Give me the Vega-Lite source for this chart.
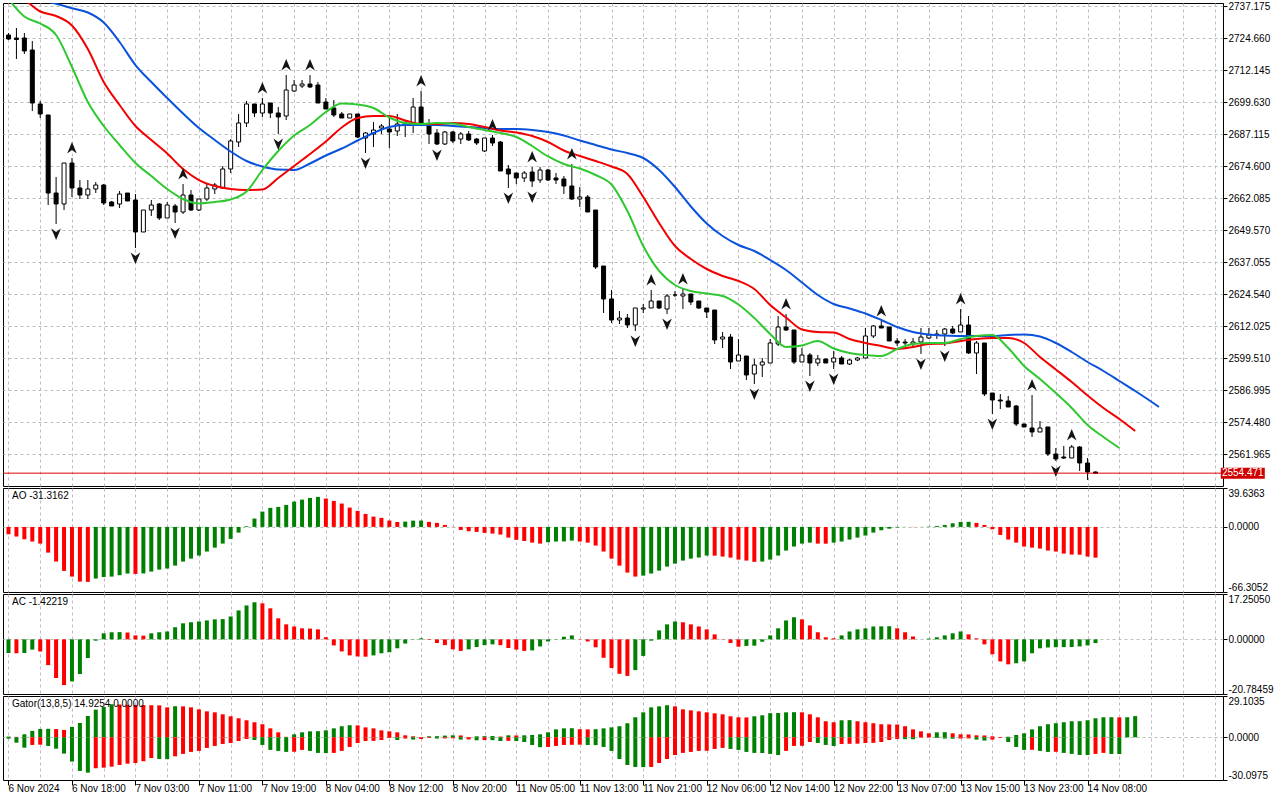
{
  "$schema": "https://vega.github.io/schema/vega-lite/v6.json",
  "background": "white",
  "padding": {"left": 2, "top": 0, "right": 0, "bottom": 0},
  "spacing": 2,
  "bounds": "flush",
  "config": {
    "view": {"stroke": "black", "strokeWidth": 1},
    "axis": {"labelFont": "Liberation Sans", "labelFontSize": 10, "labelColor": "black", "tickColor": "black", "tickWidth": 1, "title": null, "labelOverlap": false},
    "text": {"font": "Liberation Sans"},
    "locale": {"number": {"decimal": ".", "thousands": ",", "grouping": [3], "currency": ["", ""], "minus": "-"}}
  },
  "datasets": {
    "candles": [
      {"i":0,"o":2725.83,"h":2726.62,"l":2723.88,"c":2724.27},
      {"i":1,"o":2724.66,"h":2728.57,"l":2716.45,"c":2724.07},
      {"i":2,"o":2724.66,"h":2726.62,"l":2718.40,"c":2719.58},
      {"i":3,"o":2719.97,"h":2723.49,"l":2696.11,"c":2699.24},
      {"i":4,"o":2698.85,"h":2700.02,"l":2693.37,"c":2694.94},
      {"i":5,"o":2694.55,"h":2694.55,"l":2659.35,"c":2664.04},
      {"i":6,"o":2664.04,"h":2670.30,"l":2651.92,"c":2659.74,"f":"d"},
      {"i":7,"o":2659.74,"h":2675.77,"l":2657.39,"c":2675.77},
      {"i":8,"o":2675.77,"h":2677.73,"l":2662.48,"c":2666.00,"f":"u"},
      {"i":9,"o":2666.00,"h":2669.12,"l":2661.69,"c":2663.26},
      {"i":10,"o":2663.26,"h":2669.12,"l":2661.69,"c":2665.61},
      {"i":11,"o":2665.61,"h":2668.34,"l":2664.04,"c":2667.17},
      {"i":12,"o":2667.17,"h":2667.56,"l":2659.35,"c":2660.13},
      {"i":13,"o":2660.52,"h":2660.91,"l":2658.96,"c":2658.96},
      {"i":14,"o":2659.74,"h":2664.82,"l":2658.17,"c":2663.65},
      {"i":15,"o":2664.04,"h":2664.04,"l":2660.91,"c":2660.91},
      {"i":16,"o":2661.30,"h":2663.65,"l":2642.53,"c":2648.79,"f":"d"},
      {"i":17,"o":2648.79,"h":2657.39,"l":2648.79,"c":2657.39},
      {"i":18,"o":2657.39,"h":2661.30,"l":2655.05,"c":2659.35},
      {"i":19,"o":2659.74,"h":2660.13,"l":2653.48,"c":2654.26},
      {"i":20,"o":2654.26,"h":2660.52,"l":2654.26,"c":2659.35},
      {"i":21,"o":2658.96,"h":2659.74,"l":2652.31,"c":2656.61,"f":"d"},
      {"i":22,"o":2656.61,"h":2667.56,"l":2655.83,"c":2663.26,"f":"u"},
      {"i":23,"o":2663.26,"h":2665.21,"l":2657.00,"c":2657.39},
      {"i":24,"o":2657.39,"h":2661.69,"l":2657.00,"c":2661.69},
      {"i":25,"o":2661.69,"h":2667.56,"l":2660.91,"c":2666.00},
      {"i":26,"o":2665.61,"h":2667.95,"l":2663.65,"c":2667.17},
      {"i":27,"o":2666.00,"h":2674.60,"l":2666.00,"c":2673.43},
      {"i":28,"o":2673.43,"h":2685.16,"l":2671.86,"c":2684.38},
      {"i":29,"o":2683.99,"h":2694.94,"l":2682.03,"c":2691.42},
      {"i":30,"o":2691.42,"h":2700.02,"l":2689.85,"c":2698.85},
      {"i":31,"o":2698.85,"h":2698.85,"l":2693.76,"c":2695.33},
      {"i":32,"o":2695.33,"h":2701.19,"l":2693.76,"c":2698.85,"f":"u"},
      {"i":33,"o":2699.24,"h":2699.24,"l":2693.37,"c":2695.33},
      {"i":34,"o":2695.33,"h":2697.67,"l":2687.12,"c":2693.76,"f":"d"},
      {"i":35,"o":2694.15,"h":2710.19,"l":2692.59,"c":2704.32,"f":"u"},
      {"i":36,"o":2703.93,"h":2708.23,"l":2703.54,"c":2706.28},
      {"i":37,"o":2705.89,"h":2708.23,"l":2705.11,"c":2706.67},
      {"i":38,"o":2706.67,"h":2710.19,"l":2705.11,"c":2705.50,"f":"u"},
      {"i":39,"o":2706.28,"h":2707.45,"l":2699.24,"c":2699.24},
      {"i":40,"o":2699.63,"h":2701.19,"l":2696.89,"c":2696.89},
      {"i":41,"o":2697.28,"h":2700.41,"l":2693.76,"c":2694.55},
      {"i":42,"o":2694.94,"h":2695.72,"l":2693.37,"c":2693.37},
      {"i":43,"o":2693.37,"h":2694.94,"l":2693.37,"c":2694.94},
      {"i":44,"o":2694.94,"h":2694.94,"l":2685.55,"c":2685.94},
      {"i":45,"o":2685.55,"h":2687.90,"l":2679.68,"c":2687.51,"f":"d"},
      {"i":46,"o":2687.12,"h":2691.81,"l":2682.03,"c":2688.68},
      {"i":47,"o":2689.46,"h":2691.03,"l":2687.12,"c":2690.24},
      {"i":48,"o":2689.07,"h":2693.76,"l":2681.64,"c":2687.90},
      {"i":49,"o":2688.29,"h":2694.94,"l":2686.33,"c":2691.03},
      {"i":50,"o":2690.63,"h":2692.20,"l":2685.94,"c":2691.42},
      {"i":51,"o":2691.03,"h":2701.19,"l":2687.51,"c":2697.67},
      {"i":52,"o":2697.67,"h":2703.93,"l":2690.24,"c":2691.03,"f":"u"},
      {"i":53,"o":2690.24,"h":2692.98,"l":2683.20,"c":2687.12},
      {"i":54,"o":2687.51,"h":2689.07,"l":2682.81,"c":2683.20,"f":"d"},
      {"i":55,"o":2683.20,"h":2688.29,"l":2682.81,"c":2687.90},
      {"i":56,"o":2687.90,"h":2688.29,"l":2683.60,"c":2684.38},
      {"i":57,"o":2685.16,"h":2687.90,"l":2683.20,"c":2687.12},
      {"i":58,"o":2687.12,"h":2688.29,"l":2684.38,"c":2684.77},
      {"i":59,"o":2685.16,"h":2685.55,"l":2682.81,"c":2683.60},
      {"i":60,"o":2680.47,"h":2685.55,"l":2680.08,"c":2685.55},
      {"i":61,"o":2685.55,"h":2686.72,"l":2682.42,"c":2683.60,"f":"u"},
      {"i":62,"o":2683.99,"h":2684.38,"l":2672.64,"c":2672.64},
      {"i":63,"o":2673.43,"h":2674.99,"l":2666.00,"c":2671.47,"f":"d"},
      {"i":64,"o":2671.86,"h":2671.86,"l":2667.56,"c":2669.91},
      {"i":65,"o":2669.91,"h":2672.64,"l":2668.34,"c":2671.86},
      {"i":66,"o":2672.25,"h":2674.21,"l":2666.39,"c":2668.73,"f":"ud"},
      {"i":67,"o":2669.12,"h":2674.21,"l":2667.95,"c":2673.04},
      {"i":68,"o":2673.04,"h":2673.43,"l":2668.73,"c":2669.12},
      {"i":69,"o":2669.91,"h":2671.86,"l":2667.56,"c":2669.12},
      {"i":70,"o":2669.52,"h":2670.69,"l":2663.65,"c":2666.78},
      {"i":71,"o":2666.78,"h":2675.38,"l":2661.30,"c":2661.69,"f":"u"},
      {"i":72,"o":2661.69,"h":2666.39,"l":2658.57,"c":2662.48},
      {"i":73,"o":2662.48,"h":2663.26,"l":2656.61,"c":2656.61},
      {"i":74,"o":2657.39,"h":2657.39,"l":2634.32,"c":2635.10},
      {"i":75,"o":2635.49,"h":2635.49,"l":2617.11,"c":2622.59},
      {"i":76,"o":2622.59,"h":2626.10,"l":2613.20,"c":2614.37},
      {"i":77,"o":2614.37,"h":2617.89,"l":2612.81,"c":2615.15},
      {"i":78,"o":2615.15,"h":2616.72,"l":2611.24,"c":2612.42},
      {"i":79,"o":2612.42,"h":2619.07,"l":2610.07,"c":2619.07,"f":"d"},
      {"i":80,"o":2618.67,"h":2620.63,"l":2617.11,"c":2619.07},
      {"i":81,"o":2619.07,"h":2626.10,"l":2619.07,"c":2621.80,"f":"u"},
      {"i":82,"o":2621.80,"h":2621.80,"l":2618.67,"c":2619.07},
      {"i":83,"o":2618.67,"h":2624.54,"l":2616.72,"c":2623.76,"f":"d"},
      {"i":84,"o":2624.15,"h":2625.71,"l":2623.37,"c":2624.15},
      {"i":85,"o":2623.76,"h":2626.50,"l":2618.67,"c":2624.54,"f":"u"},
      {"i":86,"o":2624.54,"h":2624.54,"l":2620.24,"c":2621.41},
      {"i":87,"o":2621.80,"h":2621.80,"l":2618.67,"c":2619.07},
      {"i":88,"o":2619.07,"h":2619.07,"l":2615.15,"c":2617.50},
      {"i":89,"o":2618.28,"h":2618.28,"l":2604.99,"c":2606.55},
      {"i":90,"o":2606.94,"h":2609.68,"l":2603.42,"c":2607.72},
      {"i":91,"o":2607.72,"h":2608.90,"l":2595.21,"c":2597.95},
      {"i":92,"o":2598.34,"h":2606.94,"l":2598.34,"c":2600.68},
      {"i":93,"o":2600.29,"h":2600.29,"l":2590.91,"c":2592.86},
      {"i":94,"o":2593.25,"h":2599.12,"l":2589.34,"c":2596.77,"f":"d"},
      {"i":95,"o":2596.77,"h":2599.51,"l":2592.08,"c":2597.95},
      {"i":96,"o":2597.56,"h":2606.94,"l":2597.56,"c":2605.38},
      {"i":97,"o":2604.99,"h":2615.94,"l":2604.20,"c":2611.63},
      {"i":98,"o":2611.63,"h":2616.72,"l":2610.07,"c":2610.46,"f":"u"},
      {"i":99,"o":2610.46,"h":2610.46,"l":2597.16,"c":2597.95},
      {"i":100,"o":2597.95,"h":2603.42,"l":2597.95,"c":2600.68},
      {"i":101,"o":2600.68,"h":2601.47,"l":2592.47,"c":2597.56,"f":"d"},
      {"i":102,"o":2597.56,"h":2600.68,"l":2596.38,"c":2599.12},
      {"i":103,"o":2599.12,"h":2599.12,"l":2597.56,"c":2597.56},
      {"i":104,"o":2597.95,"h":2602.25,"l":2595.21,"c":2599.51,"f":"d"},
      {"i":105,"o":2599.51,"h":2600.29,"l":2597.16,"c":2597.16},
      {"i":106,"o":2597.16,"h":2599.12,"l":2596.77,"c":2598.73},
      {"i":107,"o":2598.73,"h":2599.90,"l":2598.34,"c":2599.51},
      {"i":108,"o":2599.51,"h":2611.24,"l":2599.51,"c":2608.12},
      {"i":109,"o":2608.12,"h":2612.42,"l":2607.33,"c":2612.03},
      {"i":110,"o":2612.03,"h":2613.98,"l":2611.24,"c":2611.24,"f":"u"},
      {"i":111,"o":2611.63,"h":2611.63,"l":2606.16,"c":2606.16},
      {"i":112,"o":2606.16,"h":2607.33,"l":2604.20,"c":2605.38},
      {"i":113,"o":2605.77,"h":2606.94,"l":2604.59,"c":2605.38},
      {"i":114,"o":2604.99,"h":2607.33,"l":2603.42,"c":2605.77},
      {"i":115,"o":2605.77,"h":2611.24,"l":2601.08,"c":2607.72,"f":"d"},
      {"i":116,"o":2607.33,"h":2611.24,"l":2606.94,"c":2608.51},
      {"i":117,"o":2608.51,"h":2610.46,"l":2606.94,"c":2608.90},
      {"i":118,"o":2608.90,"h":2611.24,"l":2604.20,"c":2610.85,"f":"d"},
      {"i":119,"o":2610.85,"h":2612.03,"l":2608.90,"c":2609.29},
      {"i":120,"o":2609.68,"h":2618.67,"l":2609.68,"c":2612.42,"f":"u"},
      {"i":121,"o":2612.42,"h":2615.94,"l":2601.08,"c":2601.47},
      {"i":122,"o":2601.47,"h":2606.16,"l":2593.25,"c":2605.38},
      {"i":123,"o":2605.38,"h":2605.38,"l":2584.65,"c":2585.43},
      {"i":124,"o":2585.82,"h":2585.82,"l":2577.61,"c":2583.08,"f":"d"},
      {"i":125,"o":2583.08,"h":2585.43,"l":2579.57,"c":2582.69},
      {"i":126,"o":2582.69,"h":2584.65,"l":2580.35,"c":2580.35},
      {"i":127,"o":2580.74,"h":2581.13,"l":2572.92,"c":2573.70},
      {"i":128,"o":2573.70,"h":2573.70,"l":2572.53,"c":2572.53},
      {"i":129,"o":2572.13,"h":2585.04,"l":2568.61,"c":2570.57,"f":"u"},
      {"i":130,"o":2570.57,"h":2574.87,"l":2570.57,"c":2572.13},
      {"i":131,"o":2572.53,"h":2572.53,"l":2561.18,"c":2561.97},
      {"i":132,"o":2561.97,"h":2564.31,"l":2559.23,"c":2560.01,"f":"d"},
      {"i":133,"o":2560.79,"h":2565.09,"l":2560.01,"c":2560.40},
      {"i":134,"o":2560.40,"h":2565.49,"l":2560.40,"c":2564.70,"f":"u"},
      {"i":135,"o":2564.70,"h":2565.09,"l":2555.32,"c":2558.45},
      {"i":136,"o":2558.45,"h":2560.40,"l":2551.80,"c":2554.93},
      {"i":137,"o":2554.93,"h":2555.10,"l":2554.14,"c":2554.471}
    ],
    "alligator": [
      {"i":0,"jaw":2742.26,"teeth":2741.48,"lips":2739.91},
      {"i":2,"jaw":2740.69,"teeth":2739.52,"lips":2733.07},
      {"i":4,"jaw":2739.52,"teeth":2735.02,"lips":2730.33},
      {"i":6,"jaw":2738.03,"teeth":2733.26,"lips":2725.83},
      {"i":8,"jaw":2736.31,"teeth":2729.55,"lips":2713.32},
      {"i":10,"jaw":2734.63,"teeth":2720.36,"lips":2699.63},
      {"i":12,"jaw":2730.72,"teeth":2707.45,"lips":2690.24},
      {"i":14,"jaw":2723.10,"teeth":2698.46,"lips":2682.81},
      {"i":16,"jaw":2714.10,"teeth":2690.24,"lips":2675.77},
      {"i":18,"jaw":2707.45,"teeth":2684.77,"lips":2670.69},
      {"i":20,"jaw":2701.19,"teeth":2679.49,"lips":2665.61},
      {"i":22,"jaw":2695.13,"teeth":2673.43,"lips":2661.69},
      {"i":24,"jaw":2689.46,"teeth":2669.12,"lips":2659.93},
      {"i":26,"jaw":2684.77,"teeth":2666.78,"lips":2660.52},
      {"i":28,"jaw":2680.27,"teeth":2665.61,"lips":2661.50},
      {"i":30,"jaw":2676.56,"teeth":2665.21,"lips":2664.63},
      {"i":32,"jaw":2674.40,"teeth":2665.41,"lips":2673.04},
      {"i":34,"jaw":2673.23,"teeth":2669.91,"lips":2680.47},
      {"i":36,"jaw":2673.04,"teeth":2674.60,"lips":2686.53},
      {"i":38,"jaw":2675.58,"teeth":2679.29,"lips":2690.63},
      {"i":40,"jaw":2678.71,"teeth":2684.18,"lips":2695.72},
      {"i":42,"jaw":2681.44,"teeth":2689.66,"lips":2699.04},
      {"i":44,"jaw":2684.57,"teeth":2693.37,"lips":2698.65},
      {"i":46,"jaw":2687.51,"teeth":2694.15,"lips":2697.28},
      {"i":48,"jaw":2689.85,"teeth":2694.15,"lips":2693.57},
      {"i":50,"jaw":2690.63,"teeth":2692.40,"lips":2691.42},
      {"i":52,"jaw":2690.63,"teeth":2691.03,"lips":2691.03},
      {"i":54,"jaw":2690.63,"teeth":2691.03,"lips":2691.42},
      {"i":56,"jaw":2690.24,"teeth":2691.42,"lips":2691.22},
      {"i":58,"jaw":2689.85,"teeth":2691.03,"lips":2689.85},
      {"i":60,"jaw":2689.46,"teeth":2689.85,"lips":2688.68},
      {"i":62,"jaw":2689.07,"teeth":2688.48,"lips":2687.51},
      {"i":64,"jaw":2689.07,"teeth":2687.70,"lips":2685.94},
      {"i":66,"jaw":2688.68,"teeth":2686.33,"lips":2682.42},
      {"i":68,"jaw":2687.90,"teeth":2683.99,"lips":2678.32},
      {"i":70,"jaw":2686.53,"teeth":2680.66,"lips":2675.38},
      {"i":72,"jaw":2684.57,"teeth":2678.51,"lips":2673.62},
      {"i":74,"jaw":2682.81,"teeth":2676.56,"lips":2671.08},
      {"i":76,"jaw":2681.05,"teeth":2674.40,"lips":2667.36},
      {"i":78,"jaw":2679.68,"teeth":2671.47,"lips":2657.00},
      {"i":80,"jaw":2677.73,"teeth":2662.48,"lips":2643.31},
      {"i":82,"jaw":2673.04,"teeth":2652.31,"lips":2633.54},
      {"i":84,"jaw":2666.39,"teeth":2643.31,"lips":2628.06},
      {"i":86,"jaw":2658.76,"teeth":2638.23,"lips":2625.71},
      {"i":88,"jaw":2652.11,"teeth":2634.32,"lips":2624.74},
      {"i":90,"jaw":2647.22,"teeth":2631.58,"lips":2623.76},
      {"i":92,"jaw":2643.70,"teeth":2629.62,"lips":2620.43},
      {"i":94,"jaw":2641.36,"teeth":2626.50,"lips":2615.15},
      {"i":96,"jaw":2637.84,"teeth":2620.24,"lips":2608.90},
      {"i":98,"jaw":2633.93,"teeth":2615.35,"lips":2603.81},
      {"i":100,"jaw":2629.04,"teeth":2610.66,"lips":2604.40},
      {"i":102,"jaw":2624.15,"teeth":2609.68,"lips":2606.16},
      {"i":104,"jaw":2620.63,"teeth":2609.48,"lips":2603.23},
      {"i":106,"jaw":2618.87,"teeth":2606.94,"lips":2601.47},
      {"i":108,"jaw":2616.91,"teeth":2605.38,"lips":2600.68},
      {"i":110,"jaw":2614.37,"teeth":2604.20,"lips":2600.29},
      {"i":112,"jaw":2611.63,"teeth":2603.03,"lips":2603.03},
      {"i":114,"jaw":2609.68,"teeth":2603.81,"lips":2604.99},
      {"i":116,"jaw":2608.70,"teeth":2604.99,"lips":2605.38},
      {"i":118,"jaw":2608.31,"teeth":2605.18,"lips":2605.38},
      {"i":120,"jaw":2608.12,"teeth":2606.16,"lips":2606.94},
      {"i":122,"jaw":2608.12,"teeth":2606.94,"lips":2608.12},
      {"i":124,"jaw":2608.12,"teeth":2607.33,"lips":2608.51},
      {"i":126,"jaw":2608.51,"teeth":2607.33,"lips":2603.42},
      {"i":128,"jaw":2608.70,"teeth":2605.38,"lips":2596.38},
      {"i":130,"jaw":2607.92,"teeth":2599.90,"lips":2591.30},
      {"i":132,"jaw":2605.38,"teeth":2595.01,"lips":2585.82},
      {"i":134,"jaw":2601.86,"teeth":2590.12,"lips":2579.96},
      {"i":136,"jaw":2597.95,"teeth":2584.84,"lips":2573.31},
      {"i":138,"jaw":2594.43,"teeth":2579.96,"lips":2568.61},
      {"i":140,"jaw":2590.52,"teeth":2575.65,"lips":2564.31},
      {"i":142,"jaw":2586.60,"teeth":2570.96},
      {"i":144,"jaw":2582.50},
      {"i":145,"jaw":2580.35}
    ],
    "osc": [
      {"i":0,"ao":-7.5,"ac":-5.2,"gu":0.5,"gl":-1.0},
      {"i":1,"ao":-9.8,"ac":-5.3,"gu":0.3,"gl":-3.8},
      {"i":2,"ao":-12.6,"ac":-5.2,"gu":2.1,"gl":-7.3},
      {"i":3,"ao":-14.9,"ac":-3.9,"gu":4.5,"gl":-5.4},
      {"i":4,"ao":-17.0,"ac":-4.6,"gu":5.9,"gl":-5.2},
      {"i":5,"ao":-26.2,"ac":-9.8,"gu":6.0,"gl":-6.1},
      {"i":6,"ao":-35.3,"ac":-14.7,"gu":5.8,"gl":-8.0},
      {"i":7,"ao":-44.8,"ac":-17.4,"gu":5.2,"gl":-11.5},
      {"i":8,"ao":-50.6,"ac":-16.0,"gu":7.3,"gl":-17.1},
      {"i":9,"ao":-55.7,"ac":-13.2,"gu":10.1,"gl":-23.7},
      {"i":10,"ao":-56.0,"ac":-7.1,"gu":15.0,"gl":-24.9},
      {"i":11,"ao":-52.6,"ac":-0.5,"gu":19.5,"gl":-21.8},
      {"i":12,"ao":-51.0,"ac":2.3,"gu":21.5,"gl":-21.4},
      {"i":13,"ao":-50.6,"ac":2.7,"gu":23.3,"gl":-20.7},
      {"i":14,"ao":-49.2,"ac":2.75,"gu":23.1,"gl":-19.5},
      {"i":15,"ao":-47.5,"ac":2.6,"gu":22.9,"gl":-18.6},
      {"i":16,"ao":-47.9,"ac":1.5,"gu":22.8,"gl":-18.1},
      {"i":17,"ao":-47.4,"ac":1.4,"gu":22.7,"gl":-16.9},
      {"i":18,"ao":-45.5,"ac":2.3,"gu":22.6,"gl":-14.6},
      {"i":19,"ao":-43.5,"ac":2.7,"gu":22.5,"gl":-15.3},
      {"i":20,"ao":-42.4,"ac":3.0,"gu":21.1,"gl":-15.4},
      {"i":21,"ao":-39.4,"ac":4.6,"gu":21.9,"gl":-13.4},
      {"i":22,"ao":-35.3,"ac":6.1,"gu":21.8,"gl":-11.7},
      {"i":23,"ao":-32.3,"ac":6.5,"gu":21.1,"gl":-10.3},
      {"i":24,"ao":-29.2,"ac":6.8,"gu":19.7,"gl":-9.6},
      {"i":25,"ao":-25.1,"ac":7.2,"gu":18.3,"gl":-7.5},
      {"i":26,"ao":-21.1,"ac":7.6,"gu":17.6,"gl":-6.1},
      {"i":27,"ao":-17.0,"ac":7.7,"gu":16.2,"gl":-4.7},
      {"i":28,"ao":-12.2,"ac":8.7,"gu":14.8,"gl":-4.0},
      {"i":29,"ao":-5.8,"ac":11.0,"gu":13.4,"gl":-2.6},
      {"i":30,"ao":0.7,"ac":12.9,"gu":12.0,"gl":-1.2},
      {"i":31,"ao":8.5,"ac":14.1,"gu":10.6,"gl":-1.9},
      {"i":32,"ao":15.6,"ac":13.7,"gu":9.2,"gl":-5.4},
      {"i":33,"ao":19.4,"ac":11.8,"gu":6.3,"gl":-8.9},
      {"i":34,"ao":20.4,"ac":8.0,"gu":3.5,"gl":-9.6},
      {"i":35,"ao":22.4,"ac":5.7,"gu":0.3,"gl":-10.3},
      {"i":36,"ao":25.8,"ac":4.9,"gu":2.1,"gl":-10.2},
      {"i":37,"ao":27.8,"ac":4.2,"gu":3.5,"gl":-8.9},
      {"i":38,"ao":29.5,"ac":4.1,"gu":4.2,"gl":-9.6},
      {"i":39,"ao":30.6,"ac":3.8,"gu":4.3,"gl":-11.0},
      {"i":40,"ao":28.9,"ac":0.8,"gu":4.9,"gl":-11.1},
      {"i":41,"ao":26.5,"ac":-2.3,"gu":6.3,"gl":-11.0},
      {"i":42,"ao":23.8,"ac":-4.6,"gu":7.8,"gl":-9.6},
      {"i":43,"ao":19.7,"ac":-6.1,"gu":8.5,"gl":-6.8},
      {"i":44,"ao":16.3,"ac":-6.5,"gu":8.4,"gl":-4.0},
      {"i":45,"ao":13.2,"ac":-6.6,"gu":7.0,"gl":-2.6},
      {"i":46,"ao":10.5,"ac":-6.1,"gu":6.3,"gl":-2.5},
      {"i":47,"ao":9.2,"ac":-5.3,"gu":4.9,"gl":-1.9},
      {"i":48,"ao":6.5,"ac":-4.9,"gu":4.2,"gl":-0.5},
      {"i":49,"ao":5.0,"ac":-3.4,"gu":3.5,"gl":-1.9},
      {"i":50,"ao":5.4,"ac":-1.6,"gu":1.4,"gl":-0.9},
      {"i":51,"ao":6.4,"ac":0.1,"gu":0.7,"gl":-1.6},
      {"i":52,"ao":6.5,"ac":0.4,"gu":0.2,"gl":-1.2},
      {"i":53,"ao":5.1,"ac":-0.2,"gu":0.7,"gl":-0.5},
      {"i":54,"ao":4.1,"ac":-1.4,"gu":0.8,"gl":-0.9},
      {"i":55,"ao":2.0,"ac":-2.2,"gu":1.2,"gl":-0.8},
      {"i":56,"ao":-0.2,"ac":-3.8,"gu":1.4,"gl":-0.7},
      {"i":57,"ao":-3.1,"ac":-4.4,"gu":1.3,"gl":-1.6},
      {"i":58,"ao":-4.4,"ac":-3.8,"gu":0.2,"gl":-1.5},
      {"i":59,"ao":-5.1,"ac":-2.9,"gu":0.7,"gl":-2.1},
      {"i":60,"ao":-6.1,"ac":-2.2,"gu":0.8,"gl":-1.9},
      {"i":61,"ao":-6.8,"ac":-1.9,"gu":0.9,"gl":-2.0},
      {"i":62,"ao":-7.8,"ac":-2.2,"gu":0.5,"gl":-2.6},
      {"i":63,"ao":-10.9,"ac":-3.3,"gu":1.4,"gl":-2.5},
      {"i":64,"ao":-13.2,"ac":-3.9,"gu":1.3,"gl":-2.6},
      {"i":65,"ao":-14.3,"ac":-4.4,"gu":1.4,"gl":-3.3},
      {"i":66,"ao":-16.0,"ac":-4.2,"gu":1.6,"gl":-5.4},
      {"i":67,"ao":-17.0,"ac":-2.7,"gu":2.1,"gl":-7.0},
      {"i":68,"ao":-15.6,"ac":-0.8,"gu":3.5,"gl":-6.8},
      {"i":69,"ao":-14.9,"ac":0.1,"gu":5.6,"gl":-6.1},
      {"i":70,"ao":-14.8,"ac":1.0,"gu":6.3,"gl":-5.4},
      {"i":71,"ao":-13.9,"ac":1.5,"gu":6.4,"gl":-5.3},
      {"i":72,"ao":-14.9,"ac":0.1,"gu":5.7,"gl":-5.2},
      {"i":73,"ao":-16.0,"ac":-0.8,"gu":5.6,"gl":-5.4},
      {"i":74,"ao":-19.0,"ac":-3.0,"gu":5.7,"gl":-5.5},
      {"i":75,"ao":-25.1,"ac":-7.0,"gu":6.3,"gl":-6.8},
      {"i":76,"ao":-32.3,"ac":-10.9,"gu":7.0,"gl":-9.6},
      {"i":77,"ao":-39.4,"ac":-13.1,"gu":7.8,"gl":-15.3},
      {"i":78,"ao":-46.5,"ac":-13.9,"gu":9.9,"gl":-19.5},
      {"i":79,"ao":-50.6,"ac":-11.7,"gu":14.1,"gl":-20.9},
      {"i":80,"ao":-49.6,"ac":-6.3,"gu":17.6,"gl":-21.0},
      {"i":81,"ao":-47.5,"ac":-0.5,"gu":21.1,"gl":-20.9},
      {"i":82,"ao":-44.5,"ac":3.4,"gu":21.8,"gl":-18.1},
      {"i":83,"ao":-40.4,"ac":5.7,"gu":22.6,"gl":-15.3},
      {"i":84,"ao":-37.4,"ac":6.8,"gu":21.8,"gl":-12.5},
      {"i":85,"ao":-34.3,"ac":6.5,"gu":19.7,"gl":-11.0},
      {"i":86,"ao":-32.3,"ac":5.7,"gu":19.0,"gl":-10.3},
      {"i":87,"ao":-31.2,"ac":4.9,"gu":18.3,"gl":-9.6},
      {"i":88,"ao":-29.2,"ac":3.8,"gu":17.6,"gl":-9.5},
      {"i":89,"ao":-29.3,"ac":1.9,"gu":16.9,"gl":-8.2},
      {"i":90,"ao":-30.2,"ac":0.1,"gu":16.2,"gl":-7.5},
      {"i":91,"ao":-31.3,"ac":-1.4,"gu":14.8,"gl":-8.2},
      {"i":92,"ao":-33.3,"ac":-2.8,"gu":14.1,"gl":-8.9},
      {"i":93,"ao":-34.3,"ac":-2.5,"gu":14.0,"gl":-10.3},
      {"i":94,"ao":-35.6,"ac":-2.4,"gu":14.8,"gl":-11.0},
      {"i":95,"ao":-35.3,"ac":-0.9,"gu":15.5,"gl":-11.1},
      {"i":96,"ao":-33.3,"ac":1.5,"gu":17.0,"gl":-11.7},
      {"i":97,"ao":-29.2,"ac":4.2,"gu":17.1,"gl":-12.5},
      {"i":98,"ao":-24.1,"ac":7.2,"gu":17.6,"gl":-9.6},
      {"i":99,"ao":-20.0,"ac":8.4,"gu":17.7,"gl":-6.1},
      {"i":100,"ao":-17.0,"ac":7.6,"gu":17.6,"gl":-6.0},
      {"i":101,"ao":-16.0,"ac":5.3,"gu":16.2,"gl":-3.3},
      {"i":102,"ao":-17.0,"ac":2.7,"gu":14.1,"gl":-4.0},
      {"i":103,"ao":-17.1,"ac":0.8,"gu":11.3,"gl":-5.4},
      {"i":104,"ao":-16.0,"ac":0.4,"gu":10.6,"gl":-6.1},
      {"i":105,"ao":-14.9,"ac":1.5,"gu":12.0,"gl":-4.7},
      {"i":106,"ao":-12.9,"ac":3.0,"gu":12.1,"gl":-4.6},
      {"i":107,"ao":-10.9,"ac":3.8,"gu":11.3,"gl":-4.5},
      {"i":108,"ao":-8.8,"ac":4.2,"gu":10.6,"gl":-4.0},
      {"i":109,"ao":-5.8,"ac":4.9,"gu":9.9,"gl":-3.9},
      {"i":110,"ao":-3.4,"ac":4.95,"gu":9.2,"gl":-3.3},
      {"i":111,"ao":-1.8,"ac":5.0,"gu":9.1,"gl":-1.9},
      {"i":112,"ao":-0.6,"ac":4.2,"gu":9.0,"gl":-1.2},
      {"i":113,"ao":-0.1,"ac":2.7,"gu":7.8,"gl":-1.3},
      {"i":114,"ao":-0.2,"ac":1.1,"gu":5.6,"gl":-1.4},
      {"i":115,"ao":-0.1,"ac":0.0,"gu":4.2,"gl":-0.2},
      {"i":116,"ao":0.3,"ac":0.3,"gu":2.8,"gl":-0.1},
      {"i":117,"ao":1.0,"ac":0.8,"gu":3.5,"gl":-0.5},
      {"i":118,"ao":2.0,"ac":1.5,"gu":3.6,"gl":-0.9},
      {"i":119,"ao":3.7,"ac":2.3,"gu":2.8,"gl":-1.0},
      {"i":120,"ao":5.1,"ac":3.0,"gu":2.1,"gl":-0.9},
      {"i":121,"ao":5.2,"ac":1.9,"gu":2.0,"gl":-0.8},
      {"i":122,"ao":4.1,"ac":0.4,"gu":1.4,"gl":-1.6},
      {"i":123,"ao":2.0,"ac":-1.9,"gu":1.3,"gl":-2.3},
      {"i":124,"ao":-2.4,"ac":-5.7,"gu":0.7,"gl":-1.6},
      {"i":125,"ao":-8.2,"ac":-8.4,"gu":0.1,"gl":-0.5},
      {"i":126,"ao":-12.9,"ac":-9.5,"gu":0.4,"gl":-3.3},
      {"i":127,"ao":-16.0,"ac":-9.1,"gu":1.6,"gl":-6.8},
      {"i":128,"ao":-20.0,"ac":-8.4,"gu":2.8,"gl":-8.9},
      {"i":129,"ao":-21.1,"ac":-5.3,"gu":5.6,"gl":-8.8},
      {"i":130,"ao":-22.1,"ac":-3.4,"gu":7.8,"gl":-9.6},
      {"i":131,"ao":-24.1,"ac":-3.1,"gu":9.2,"gl":-10.3},
      {"i":132,"ao":-25.1,"ac":-3.0,"gu":9.9,"gl":-10.2},
      {"i":133,"ao":-27.2,"ac":-2.95,"gu":10.6,"gl":-11.0},
      {"i":134,"ao":-28.2,"ac":-2.9,"gu":11.3,"gl":-11.7},
      {"i":135,"ao":-28.3,"ac":-2.7,"gu":11.35,"gl":-12.45},
      {"i":136,"ao":-30.2,"ac":-2.3,"gu":12.0,"gl":-12.5},
      {"i":137,"ao":-31.3162,"ac":-1.42219,"gu":13.4,"gl":-11.7},
      {"i":138,"gu":14.1,"gl":-11.0},
      {"i":139,"gu":14.15,"gl":-11.75},
      {"i":140,"gu":14.05,"gl":-11.8},
      {"i":141,"gu":14.15},
      {"i":142,"gu":14.9254}
    ],
    "times": [
      {"i":0,"t":"6 Nov 2024"},{"i":8,"t":"6 Nov 18:00"},{"i":16,"t":"7 Nov 03:00"},
      {"i":24,"t":"7 Nov 11:00"},{"i":32,"t":"7 Nov 19:00"},{"i":40,"t":"8 Nov 04:00"},
      {"i":48,"t":"8 Nov 12:00"},{"i":56,"t":"8 Nov 20:00"},{"i":64,"t":"11 Nov 05:00"},
      {"i":72,"t":"11 Nov 13:00"},{"i":80,"t":"11 Nov 21:00"},{"i":88,"t":"12 Nov 06:00"},
      {"i":96,"t":"12 Nov 14:00"},{"i":104,"t":"12 Nov 22:00"},{"i":112,"t":"13 Nov 07:00"},
      {"i":120,"t":"13 Nov 15:00"},{"i":128,"t":"13 Nov 23:00"},{"i":136,"t":"14 Nov 08:00"}
    ]
  },
  "vconcat": [
    {
      "width": 1220,
      "height": 483,
      "layer": [
        {
          "data": {"name": "candles"},
          "mark": {"type": "rule", "color": "black", "strokeWidth": 1},
          "encoding": {
            "x": {"field": "i", "type": "quantitative", "title": null,
              "scale": {"domain": [-0.0625, 152.4375], "nice": false, "zero": false},
              "axis": {"values": [0,4,8,12,16,20,24,28,32,36,40,44,48,52,56,60,64,68,72,76,80,84,88,92,96,100,104,108,112,116,120,124,128,132,136,140,144,148,152],
                "tickCount": 60, "labels": false, "ticks": false, "domain": false, "grid": true, "gridColor": "#c8b4c8", "gridDash": [3, 3], "title": null}},
            "y": {"field": "l", "type": "quantitative", "title": null,
              "scale": {"domain": [2549.45, 2738.35], "nice": false, "zero": false},
              "axis": {"orient": "right", "values": [2737.175,2724.66,2712.145,2699.63,2687.115,2674.6,2662.085,2649.57,2637.055,2624.54,2612.025,2599.51,2586.995,2574.48,2561.965],
                "tickCount": 40, "format": ".3f", "labelOverlap": false, "grid": true, "gridColor": "#b4c4b4", "gridDash": [3, 3], "ticks": true, "tickSize": 4, "labelPadding": 1, "domain": false, "title": null}},
            "y2": {"field": "h"}
          }
        },
        {
          "data": {"name": "candles"},
          "mark": {"type": "bar", "width": 4, "stroke": "black", "strokeWidth": 1, "opacity": 1},
          "encoding": {
            "x": {"field": "i", "type": "quantitative", "title": null},
            "y": {"field": "o", "type": "quantitative", "title": null},
            "y2": {"field": "c"},
            "fill": {"condition": {"test": "datum.c > datum.o", "value": "white"}, "value": "black"}
          }
        },
        {
          "data": {"name": "alligator"},
          "transform": [
            {"fold": ["jaw", "teeth", "lips"], "as": ["line", "p"]},
            {"filter": "isValid(datum.p)"}
          ],
          "mark": {"type": "line", "strokeWidth": 2, "interpolate": "monotone", "clip": true},
          "encoding": {
            "x": {"field": "i", "type": "quantitative", "title": null},
            "y": {"field": "p", "type": "quantitative", "title": null},
            "color": {"field": "line", "type": "nominal", "scale": {"domain": ["jaw", "teeth", "lips"], "range": ["#0a52dc", "#f20000", "#30c830"]}, "legend": null}
          }
        },
        {
          "data": {"name": "candles"},
          "transform": [{"filter": "datum.f == 'u' || datum.f == 'ud'"}],
          "mark": {"type": "point", "shape": "M0,-1L0.8,0.9L0,0.35L-0.8,0.9Z", "size": 144, "filled": true, "color": "#141414", "opacity": 1, "strokeWidth": 0, "yOffset": -10},
          "encoding": {
            "x": {"field": "i", "type": "quantitative", "title": null},
            "y": {"field": "h", "type": "quantitative", "title": null}
          }
        },
        {
          "data": {"name": "candles"},
          "transform": [{"filter": "datum.f == 'd' || datum.f == 'ud'"}],
          "mark": {"type": "point", "shape": "M0,1L0.8,-0.9L0,-0.35L-0.8,-0.9Z", "size": 144, "filled": true, "color": "#141414", "opacity": 1, "strokeWidth": 0, "yOffset": 10},
          "encoding": {
            "x": {"field": "i", "type": "quantitative", "title": null},
            "y": {"field": "l", "type": "quantitative", "title": null}
          }
        },
        {
          "data": {"values": [{}]},
          "mark": {"type": "rule", "color": "#e00000", "strokeWidth": 1},
          "encoding": {
            "y": {"datum": 2554.471, "type": "quantitative", "title": null}
          }
        },
        {
          "data": {"values": [{}]},
          "mark": {"type": "point", "shape": "M-1,-0.25H1V0.25H-1Z", "size": 1936, "filled": true, "color": "#d00000", "opacity": 1, "strokeWidth": 0, "clip": false},
          "encoding": {
            "x": {"datum": 155.5625, "type": "quantitative", "title": null},
            "y": {"datum": 2554.471, "type": "quantitative", "title": null}
          }
        },
        {
          "data": {"values": [{}]},
          "mark": {"type": "text", "color": "white", "fontSize": 10, "align": "center", "baseline": "middle", "clip": false},
          "encoding": {
            "x": {"datum": 155.5625, "type": "quantitative", "title": null},
            "y": {"datum": 2554.471, "type": "quantitative", "title": null},
            "text": {"value": "2554.471"}
          }
        }
      ]
    },
    {
      "width": 1220,
      "height": 104,
      "data": {"name": "osc"},
      "transform": [
        {"window": [{"op": "lag", "field": "ao", "as": "pao"}], "sort": [{"field": "i", "order": "ascending"}]},
        {"filter": "isValid(datum.ao)"}
      ],
      "layer": [
        {
          "mark": {"type": "bar", "width": 4},
          "encoding": {
            "x": {"field": "i", "type": "quantitative", "title": null,
              "scale": {"domain": [-0.0625, 152.4375], "nice": false, "zero": false},
              "axis": {"values": [0,4,8,12,16,20,24,28,32,36,40,44,48,52,56,60,64,68,72,76,80,84,88,92,96,100,104,108,112,116,120,124,128,132,136,140,144,148,152],
                "tickCount": 60, "labels": false, "ticks": false, "domain": false, "grid": true, "gridColor": "#c8b4c8", "gridDash": [3, 3], "title": null}},
            "y": {"field": "ao", "type": "quantitative", "title": null,
              "scale": {"domain": [-66.3052, 39.6363], "nice": false, "zero": false},
              "axis": {"orient": "right", "values": [39.6363, 0, -66.3052], "tickCount": 10, "format": ".4f", "labelFlush": true, "labelOverlap": false,
                "grid": true, "gridColor": "#b4c4b4", "gridDash": [3, 3],
                "gridOpacity": {"condition": {"test": "datum.value === 0", "value": 1}, "value": 0},
                "ticks": true, "tickSize": 4, "labelPadding": 1, "domain": false, "title": null}},
            "y2": {"datum": 0},
            "color": {"condition": {"test": "datum.ao > datum.pao", "value": "#008000"}, "value": "#ff0000"}
          }
        },
        {
          "data": {"values": [{}]},
          "mark": {"type": "text", "align": "left", "baseline": "top", "dx": 4, "dy": 3, "fontSize": 10, "color": "black"},
          "encoding": {
            "x": {"datum": -0.0625, "type": "quantitative", "title": null},
            "y": {"datum": 39.6363, "type": "quantitative", "title": null},
            "text": {"value": "AO -31.3162"}
          }
        }
      ]
    },
    {
      "width": 1220,
      "height": 100,
      "data": {"name": "osc"},
      "transform": [
        {"window": [{"op": "lag", "field": "ac", "as": "pac"}], "sort": [{"field": "i", "order": "ascending"}]},
        {"filter": "isValid(datum.ac)"}
      ],
      "layer": [
        {
          "mark": {"type": "bar", "width": 4},
          "encoding": {
            "x": {"field": "i", "type": "quantitative", "title": null,
              "scale": {"domain": [-0.0625, 152.4375], "nice": false, "zero": false},
              "axis": {"values": [0,4,8,12,16,20,24,28,32,36,40,44,48,52,56,60,64,68,72,76,80,84,88,92,96,100,104,108,112,116,120,124,128,132,136,140,144,148,152],
                "tickCount": 60, "labels": false, "ticks": false, "domain": false, "grid": true, "gridColor": "#c8b4c8", "gridDash": [3, 3], "title": null}},
            "y": {"field": "ac", "type": "quantitative", "title": null,
              "scale": {"domain": [-20.78459, 17.2505], "nice": false, "zero": false},
              "axis": {"orient": "right", "values": [17.2505, 0, -20.78459], "tickCount": 10, "format": ".5f", "labelFlush": true, "labelOverlap": false,
                "grid": true, "gridColor": "#b4c4b4", "gridDash": [3, 3],
                "gridOpacity": {"condition": {"test": "datum.value === 0", "value": 1}, "value": 0},
                "ticks": true, "tickSize": 4, "labelPadding": 1, "domain": false, "title": null}},
            "y2": {"datum": 0},
            "color": {"condition": {"test": "datum.pac == null || datum.ac > datum.pac", "value": "#008000"}, "value": "#ff0000"}
          }
        },
        {
          "data": {"values": [{}]},
          "mark": {"type": "text", "align": "left", "baseline": "top", "dx": 4, "dy": 3, "fontSize": 10, "color": "black"},
          "encoding": {
            "x": {"datum": -0.0625, "type": "quantitative", "title": null},
            "y": {"datum": 17.2505, "type": "quantitative", "title": null},
            "text": {"value": "AC -1.42219"}
          }
        }
      ]
    },
    {
      "width": 1220,
      "height": 84,
      "data": {"name": "osc"},
      "transform": [
        {"window": [{"op": "lag", "field": "gu", "as": "pgu"}, {"op": "lag", "field": "gl", "as": "pgl"}], "sort": [{"field": "i", "order": "ascending"}]}
      ],
      "layer": [
        {
          "transform": [{"filter": "isValid(datum.gu)"}],
          "mark": {"type": "bar", "width": 4},
          "encoding": {
            "x": {"field": "i", "type": "quantitative", "title": null,
              "scale": {"domain": [-0.0625, 152.4375], "nice": false, "zero": false},
              "axis": {"values": [0,4,8,12,16,20,24,28,32,36,40,44,48,52,56,60,64,68,72,76,80,84,88,92,96,100,104,108,112,116,120,124,128,132,136,140,144,148,152],
                "tickCount": 60, "labels": false, "ticks": true, "tickSize": 5,
                "tickOpacity": {"condition": {"test": "datum.value % 8 === 0 && datum.value <= 136", "value": 1}, "value": 0},
                "domain": false, "grid": true, "gridColor": "#c8b4c8", "gridDash": [3, 3], "title": null}},
            "y": {"field": "gu", "type": "quantitative", "title": null,
              "scale": {"domain": [-30.0975, 29.1035], "nice": false, "zero": false},
              "axis": {"orient": "right", "values": [29.1035, 0, -30.0975], "tickCount": 10, "format": ".4f", "labelFlush": true, "labelOverlap": false,
                "grid": true, "gridColor": "#b4c4b4", "gridDash": [3, 3],
                "gridOpacity": {"condition": {"test": "datum.value === 0", "value": 1}, "value": 0},
                "ticks": true, "tickSize": 4, "labelPadding": 1, "domain": false, "title": null}},
            "y2": {"datum": 0},
            "color": {"condition": {"test": "datum.pgu == null || datum.gu > datum.pgu", "value": "#008000"}, "value": "#ff0000"}
          }
        },
        {
          "transform": [{"filter": "isValid(datum.gl)"}],
          "mark": {"type": "bar", "width": 4},
          "encoding": {
            "x": {"field": "i", "type": "quantitative", "title": null},
            "y": {"field": "gl", "type": "quantitative", "title": null},
            "y2": {"datum": 0},
            "color": {"condition": {"test": "datum.pgl == null || datum.gl < datum.pgl", "value": "#008000"}, "value": "#ff0000"}
          }
        },
        {
          "data": {"values": [{}]},
          "mark": {"type": "text", "align": "left", "baseline": "top", "dx": 4, "dy": 3, "fontSize": 10, "color": "black"},
          "encoding": {
            "x": {"datum": -0.0625, "type": "quantitative", "title": null},
            "y": {"datum": 29.1035, "type": "quantitative", "title": null},
            "text": {"value": "Gator(13,8,5) 14.9254 0.0000"}
          }
        },
        {
          "data": {"name": "times"},
          "mark": {"type": "text", "align": "left", "baseline": "middle", "dx": 0, "dy": 9, "fontSize": 10, "color": "black", "clip": false},
          "encoding": {
            "x": {"field": "i", "type": "quantitative", "title": null},
            "y": {"datum": -30.0975, "type": "quantitative", "title": null},
            "text": {"field": "t"}
          }
        }
      ]
    }
  ]
}
